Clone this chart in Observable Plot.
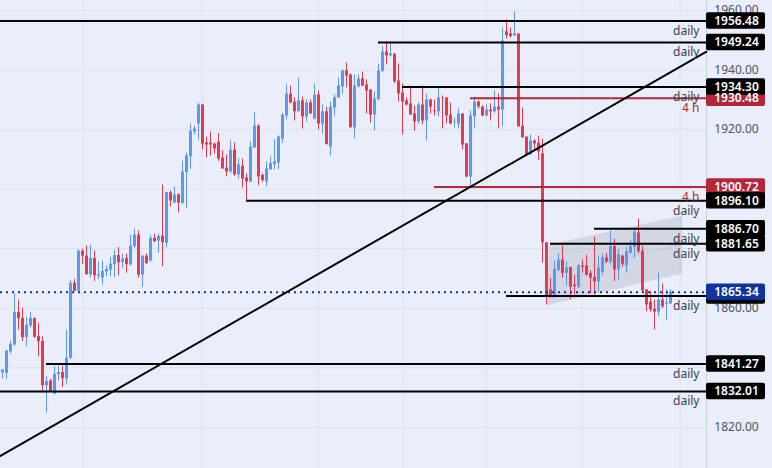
<!DOCTYPE html>
<html><head><meta charset="utf-8">
<script src="https://cdn.jsdelivr.net/npm/d3@7"></script>
<script src="https://cdn.jsdelivr.net/npm/@observablehq/plot@0.6"></script>
<style>html,body{margin:0;padding:0;background:#e9eefa}svg{display:block}</style>
</head><body><div id="chart"></div>
<script>
const open=[1838.3,1838.1,1845.3,1847.7,1858.7,1856.7,1850.2,1854.1,1856.7,1850.6,
1848.9,1833.9,1835.6,1831.1,1837.7,1838.4,1836.3,1843.2,1868.5,1865.8,
1879.4,1877.7,1871.4,1876.9,1871.0,1870.3,1872.4,1873.0,1874.8,1877.9,
1875.5,1876.9,1874.7,1880.9,1884.8,1871.3,1877.7,1876.1,1883.7,1882.8,
1884.5,1882.0,1899.1,1895.6,1898.4,1895.5,1905.9,1911.3,1919.6,1922.3,
1928.7,1915.9,1915.9,1915.5,1916.2,1910.8,1907.4,1906.1,1913.5,1905.1,
1908.1,1904.1,1902.7,1914.2,1921.6,1904.9,1902.7,1906.8,1908.5,1909.1,
1917.2,1925.0,1932.4,1929.7,1926.4,1930.1,1924.7,1929.4,1924.0,1932.1,
1922.3,1926.4,1914.5,1927.7,1931.1,1934.8,1940.2,1938.8,1921.0,1934.8,
1937.5,1935.5,1933.8,1925.3,1930.4,1939.9,1946.6,1945.3,1945.9,1936.8,
1932.8,1930.1,1929.1,1925.7,1923.0,1928.7,1923.3,1930.4,1926.7,1926.4,
1931.1,1931.1,1925.3,1922.8,1922.3,1925.7,1915.6,1904.4,1924.7,1929.7,
1928.0,1925.0,1927.0,1926.4,1928.0,1927.0,1953.4,1952.7,1952.0,1952.7,
1921.6,1917.9,1911.8,1916.6,1915.8,1912.2,1882.2,1866.3,1863.7,1872.8,
1876.4,1871.9,1873.9,1867.9,1867.2,1874.4,1874.4,1871.9,1870.5,1869.0,
1872.3,1877.1,1875.7,1880.9,1873.0,1877.7,1874.4,1878.6,1880.7,1885.5,
1879.4,1866.3,1862.2,1859.8,1858.8,1862.9,1861.5,1861.5];
const close=[1839.2,1845.7,1847.9,1858.7,1856.6,1850.2,1854.3,1856.7,1850.3,1848.8,
1833.9,1835.4,1832.0,1837.8,1838.4,1836.3,1843.2,1868.5,1865.8,1879.4,
1877.7,1871.4,1876.9,1871.1,1871.5,1872.5,1873.2,1875.0,1877.9,1875.5,
1876.7,1874.8,1881.1,1884.8,1871.3,1877.7,1875.2,1883.7,1882.6,1884.3,
1882.2,1899.1,1896.3,1898.3,1895.6,1906.1,1911.5,1919.9,1920.6,1928.7,
1915.5,1915.2,1915.2,1913.9,1910.5,1907.1,1906.1,1913.5,1905.1,1908.5,
1903.7,1902.7,1914.5,1921.6,1904.4,1903.2,1907.1,1908.9,1909.5,1917.9,
1925.3,1932.4,1929.4,1926.4,1930.1,1924.7,1929.4,1925.7,1932.1,1922.3,
1926.4,1915.4,1928.0,1931.1,1935.1,1940.2,1938.5,1921.0,1935.1,1937.5,
1935.1,1933.4,1925.3,1930.7,1940.2,1946.6,1945.3,1945.9,1936.5,1932.4,
1929.7,1928.7,1925.3,1923.0,1928.7,1923.3,1930.4,1928.0,1926.4,1931.1,
1931.0,1925.0,1922.3,1923.0,1925.7,1915.2,1904.4,1925.0,1929.7,1928.0,
1925.0,1927.0,1926.4,1928.0,1927.0,1950.3,1952.2,1951.8,1952.7,1921.3,
1917.6,1911.8,1916.6,1915.6,1912.9,1882.2,1864.2,1864.0,1873.2,1876.4,
1871.9,1873.7,1867.2,1867.4,1874.4,1873.9,1871.2,1870.3,1869.0,1873.7,
1877.1,1875.7,1880.9,1873.0,1878.1,1875.0,1879.1,1880.9,1885.8,1879.1,
1865.9,1861.2,1859.5,1858.8,1862.9,1860.6,1862.0,1865.6];
const high=[1839.5,1845.8,1848.9,1864.9,1862.9,1860.1,1857.0,1858.7,1856.7,1855.0,
1850.5,1837.0,1836.1,1840.4,1840.6,1840.6,1852.7,1869.4,1869.8,1879.7,
1880.1,1881.1,1881.4,1879.4,1875.7,1876.1,1874.3,1877.3,1879.7,1880.6,
1878.4,1878.4,1884.8,1886.8,1886.2,1877.7,1878.4,1884.8,1885.1,1885.1,
1901.7,1899.3,1899.7,1901.0,1898.7,1909.7,1912.4,1922.3,1921.6,1929.3,
1929.0,1917.9,1919.6,1915.9,1919.1,1913.2,1911.8,1916.6,1915.9,1910.5,
1910.5,1905.4,1916.2,1926.0,1922.0,1905.5,1909.5,1911.2,1916.9,1918.2,
1925.9,1935.5,1935.1,1931.1,1937.8,1931.4,1930.4,1930.4,1935.8,1933.4,
1928.7,1928.0,1929.7,1932.1,1937.8,1940.5,1942.9,1939.2,1938.8,1938.8,
1939.9,1937.2,1933.8,1933.1,1942.6,1948.4,1950.0,1949.6,1945.9,1942.6,
1935.8,1931.1,1935.1,1928.4,1929.4,1935.1,1932.4,1930.7,1930.4,1934.8,
1931.8,1931.1,1929.4,1924.3,1927.4,1925.7,1915.6,1926.7,1931.4,1930.1,
1928.4,1928.7,1929.1,1933.4,1932.4,1954.7,1957.4,1954.7,1960.1,1952.7,
1927.7,1917.9,1918.6,1916.9,1918.2,1917.2,1882.2,1870.2,1876.0,1878.6,
1881.1,1875.7,1873.9,1871.2,1874.8,1876.4,1878.0,1872.8,1884.0,1877.7,
1878.4,1878.6,1886.3,1883.4,1880.0,1878.0,1880.7,1882.9,1886.5,1890.2,
1881.1,1866.3,1865.8,1862.9,1872.0,1868.3,1866.3,1866.3];
const low=[1836.3,1836.1,1844.6,1847.3,1852.7,1848.8,1847.1,1853.4,1849.9,1843.7,
1831.4,1824.8,1831.8,1830.9,1835.6,1833.3,1834.2,1842.8,1865.6,1865.6,
1874.9,1871.3,1870.4,1869.1,1869.8,1868.0,1870.7,1870.7,1870.4,1871.0,
1873.6,1871.9,1874.3,1880.3,1870.2,1867.1,1874.9,1875.6,1882.2,1878.6,
1874.1,1880.5,1894.3,1895.5,1892.3,1895.1,1893.7,1907.0,1918.6,1916.9,
1913.5,1910.8,1911.5,1912.2,1909.6,1907.0,1904.4,1905.6,1904.7,1903.6,
1900.7,1896.3,1902.6,1914.0,1901.4,1902.5,1901.0,1906.7,1906.8,1906.8,
1915.8,1923.7,1929.1,1923.3,1926.4,1920.6,1923.0,1925.5,1923.7,1920.3,
1918.9,1915.1,1911.5,1925.0,1931.1,1932.4,1934.5,1921.0,1917.2,1934.5,
1934.9,1925.7,1922.6,1919.9,1930.4,1939.9,1942.2,1944.9,1936.0,1929.7,
1918.6,1928.4,1925.3,1919.9,1922.3,1922.0,1916.6,1925.7,1925.0,1924.8,
1920.6,1922.3,1922.0,1920.9,1920.6,1913.5,1904.1,1900.6,1921.0,1927.4,
1924.7,1924.8,1923.3,1925.9,1920.6,1921.3,1951.0,1951.3,1951.8,1921.3,
1917.6,1911.5,1911.8,1913.5,1909.9,1875.3,1861.2,1863.4,1863.4,1872.4,
1870.2,1867.6,1862.9,1864.6,1866.8,1871.9,1871.0,1865.1,1864.6,1865.6,
1871.2,1875.3,1874.7,1869.1,1869.6,1873.9,1872.1,1878.4,1876.8,1878.4,
1865.1,1858.9,1858.8,1852.8,1857.3,1860.0,1856.1,1861.3];

// The bar readings above were taken against a slightly off price ruler; this aligns them with the labelled levels.
const calibrate=p=>1820.1+(p-1820)*0.9948;

// Price axis and grid
const priceTicks=[1960,1940,1920,1900,1880,1860,1840,1820];
const shownTicks=[1960,1940,1920,1860,1820];
const timeGrid=[20.1,49.9,79,100.1,121,144.9,169.4];

// Horizontal levels: price, first bar index, kind, note
const levelPrice=[1956.48,1949.24,1934.30,1930.48,1900.72,1896.10,1886.70,1881.65,1864.10,1841.27,1832.01];
const levelStart=[-1,94,100,117,108,61,148,137,126,11,-1];
const levelKind =["daily","daily","daily","4 h","4 h","daily","daily","daily","daily","daily","daily"];
const tagLabel  =["1956.48","1949.24","1934.30","1930.48","1900.72","1896.10","1886.70","1881.65","","1841.27","1832.01"];
const lastPrice=1865.34;

// Trend line and channel
const trendBar=[-0.5,176], trendPrice=[1810.4,1946.14];
const channelBar=[136.08,136.9,170.08], channelLow=[1860.97,1861.2,1871.66], channelHigh=[1860.97,1881.45,1891.24];
const midBar=[136.9,169.3], midPrice=[1871.1,1881.45];

const UP="#5e98ea",DOWN="#e23a4e",BLACK="#000000",RED="#b2283a",NAVY="#10349a",BG="#e9eefa",GRID="#dce1ee";
const FONT="'Noto Sans',sans-serif";
const axisBar=176, tagEnd=190.75, tagCenter=183.5, noteBar=174.25, tagHalf=2.77;

const candles=open.map((o,i)=>({i,o:calibrate(o),c:calibrate(close[i]),h:calibrate(high[i]),l:calibrate(low[i]),dir:close[i]>=o?"up":"down"}));
const levels=levelPrice.map((p,k)=>({p,start:levelStart[k],kind:levelKind[k],label:tagLabel[k],col:levelKind[k]==="4 h"?RED:BLACK}));
const tagOrder=[...levels].sort((a,b)=>(a.col===RED?0:1)-(b.col===RED?0:1));

const plot=Plot.plot({
  width:772,height:468,margin:0,
  style:{background:BG,fontFamily:FONT},
  x:{domain:[-0.5,192.5],range:[0,772],axis:null},
  y:{domain:[1963.33,1806.18],range:[0,468],axis:null},
  color:{domain:["up","down"],range:[UP,DOWN]},
  marks:[
    Plot.ruleY(priceTicks,{x1:-0.5,x2:axisBar,stroke:GRID,strokeWidth:1}),
    Plot.ruleX(timeGrid,{y1:1806.18,y2:1963.33,stroke:GRID,strokeWidth:1}),
    Plot.ruleX([axisBar],{y1:1806.18,y2:1963.33,stroke:"#c9cedb",strokeWidth:1}),
    Plot.areaY(channelBar.map((b,k)=>({b,lo:calibrate(channelLow[k]),hi:calibrate(channelHigh[k])})),{x:"b",y1:"lo",y2:"hi",fill:"#787b86",fillOpacity:0.2}),
    Plot.line(midBar.map((b,k)=>({b,p:calibrate(midPrice[k])})),{x:"b",y:"p",stroke:"#b4b8c6",strokeWidth:1,strokeDasharray:"1,3"}),
    Plot.ruleX(candles,{x:"i",y1:"l",y2:"h",stroke:"dir",strokeWidth:1}),
    Plot.ruleX(candles,{x:"i",y1:"o",y2:"c",stroke:"dir",strokeWidth:3}),
    Plot.ruleY([lastPrice],{x1:-0.5,x2:axisBar,stroke:NAVY,strokeWidth:2,strokeDasharray:"2,4"}),
    Plot.ruleY(levels,{y:"p",x1:"start",x2:axisBar,stroke:"col",strokeWidth:2}),
    Plot.line(trendBar.map((b,k)=>({b,p:trendPrice[k]})),{x:"b",y:"p",stroke:BLACK,strokeWidth:2}),
    Plot.text(levels,{x:noteBar,y:"p",text:"kind",dy:10,textAnchor:"end",fill:d=>d.col===RED?RED:"#3c3f4a",fontSize:12,fontWeight:d=>d.col===RED?500:400,fontFamily:FONT}),
    Plot.text(shownTicks,{x:tagCenter,y:d=>d,text:d=>d.toFixed(2),fill:"#50535e",fontSize:12,fontFamily:FONT}),
    Plot.rect(tagOrder,{x1:axisBar,x2:tagEnd,y1:d=>d.p-tagHalf,y2:d=>d.p+tagHalf,fill:"col",rx:2}),
    Plot.rect([lastPrice],{x1:axisBar,x2:tagEnd,y1:d=>d-tagHalf,y2:d=>d+tagHalf,fill:NAVY,rx:2}),
    Plot.text(tagOrder,{x:tagCenter,y:"p",text:"label",fill:"#ffffff",fontSize:12,fontWeight:600,fontFamily:FONT}),
    Plot.text([lastPrice],{x:tagCenter,y:d=>d,text:d=>d.toFixed(2),fill:"#ffffff",fontSize:12,fontWeight:600,fontFamily:FONT})
  ]
});
document.getElementById("chart").append(plot);
</script></body></html>
